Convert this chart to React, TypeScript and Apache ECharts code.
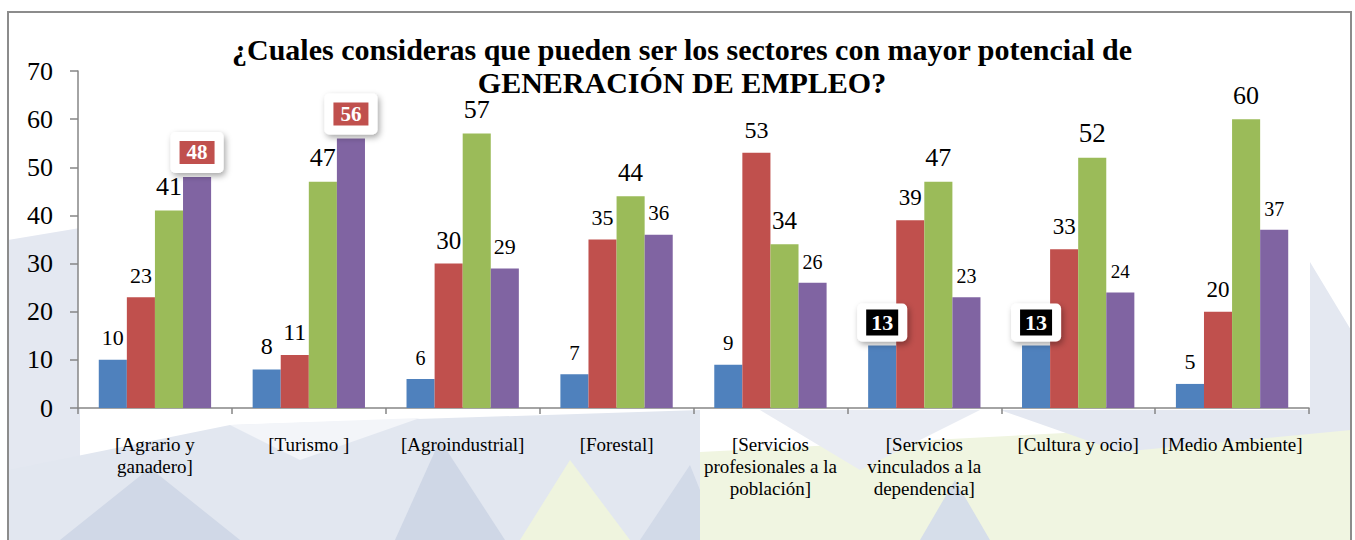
import React, { useEffect, useRef } from "react";
import * as echarts from "echarts";

const titleLines = [
  "¿Cuales consideras que pueden ser los sectores con mayor potencial de",
  "GENERACIÓN DE EMPLEO?",
];

const categories = [
  "[Agrario y\nganadero]",
  "[Turismo ]",
  "[Agroindustrial]",
  "[Forestal]",
  "[Servicios\nprofesionales a la\npoblación]",
  "[Servicios\nvinculados a la\ndependencia]",
  "[Cultura y ocio]",
  "[Medio Ambiente]",
];

const seriesNames = ["Serie 1", "Serie 2", "Serie 3", "Serie 4"];
const blueValues = [10, 8, 6, 7, 9, 13, 13, 5];
const redValues = [23, 11, 30, 35, 53, 39, 33, 20];
const greenValues = [41, 47, 57, 44, 34, 47, 52, 60];
const purpleValues = [48, 56, 29, 36, 26, 23, 24, 37];

const yTicks = { min: 0, max: 70, interval: 10 };

// styling (kept apart from the data)
const seriesColors = ["#4f81bd", "#c0504d", "#9bbb59", "#8064a2"];
const labelSizes = [
  [22, 24, 20, 21, 21, 22, 22, 22],
  [22, 24, 25, 22, 24, 23, 23, 23],
  [26, 26, 26, 25, 25, 26, 27, 26],
  [22, 22, 22, 21, 20, 20, 19, 20],
];
const highlights = [
  { s: 3, i: 0, bg: "#c0504d" },
  { s: 3, i: 1, bg: "#c0504d" },
  { s: 0, i: 5, bg: "#000000" },
  { s: 0, i: 6, bg: "#000000" },
];

const FONT = "'Liberation Serif', 'Times New Roman', serif";

export default function App() {
  const ref = useRef<HTMLDivElement>(null);
  useEffect(() => {
    if (!ref.current) return;
    const chart = echarts.init(ref.current, undefined, { renderer: "svg" });
    const allValues = [blueValues, redValues, greenValues, purpleValues];

    const series = allValues.map((vals, s) => ({
      name: seriesNames[s],
      type: "bar",
      barGap: "0%",
      barCategoryGap: "27%",
      itemStyle: { color: seriesColors[s] },
      data: vals.map((v, i) => {
        const h = highlights.find((x) => x.s === s && x.i === i);
        if (h) {
          const black = h.bg === "#000000";
          return {
            value: v,
            label: {
              show: true,
              position: "top",
              distance: 4,
              formatter: "{h|{c}}",
              backgroundColor: "#ffffff",
              borderRadius: 5,
              padding: black ? [7, 9] : [10, 9],
              shadowColor: "rgba(0,0,0,0.35)",
              shadowBlur: 6,
              shadowOffsetX: 2,
              shadowOffsetY: 3,
              rich: {
                h: {
                  backgroundColor: h.bg,
                  color: "#ffffff",
                  fontWeight: "bold",
                  fontFamily: FONT,
                  fontSize: black ? 22 : 21,
                  lineHeight: black ? 24 : 21,
                  padding: black ? [2, 5] : [1, 7],
                },
              },
            },
          };
        }
        return {
          value: v,
          label: {
            show: true,
            position: "top",
            distance: 11,
            color: "#000",
            fontFamily: FONT,
            fontSize: labelSizes[s][i],
            lineHeight: labelSizes[s][i],
          },
        };
      }),
    }));

    const bgPolys = [
      { pts: [[8, 240], [80, 228], [80, 540], [8, 540]], fill: "#e4e8f1" },
      { pts: [[8, 470], [230, 425], [700, 410], [700, 540], [8, 540]], fill: "#e2e7f0" },
      { pts: [[60, 540], [150, 468], [240, 540]], fill: "#d0d8e7" },
      { pts: [[395, 540], [440, 440], [505, 540]], fill: "#cfd7e6" },
      { pts: [[230, 425], [420, 418], [300, 460]], fill: "#f3f5f9" },
      { pts: [[520, 540], [570, 460], [630, 540]], fill: "#eff4de" },
      { pts: [[640, 540], [690, 465], [720, 540]], fill: "#d2dae8" },
      { pts: [[700, 452], [1351, 418], [1351, 540], [700, 540]], fill: "#f0f5e1" },
      { pts: [[1000, 410], [1310, 410], [1310, 262], [1351, 330], [1351, 430], [1120, 452]], fill: "#e4e8f1" },
      { pts: [[920, 540], [955, 480], [990, 540]], fill: "#d6deea" },
      { pts: [[760, 410], [980, 410], [860, 470]], fill: "#e9ecf3" },
    ];

    chart.setOption({
      animation: false,
      backgroundColor: "#ffffff",
      graphic: [
        ...bgPolys.map((p) => ({
          type: "polygon",
          z: -10,
          silent: true,
          shape: { points: p.pts },
          style: { fill: p.fill },
        })),
        {
          type: "text",
          z: 50,
          silent: true,
          x: 682,
          y: 33,
          style: {
            text: titleLines.join("\n"),
            fontFamily: FONT,
            fontWeight: "bold",
            fontSize: 30,
            lineHeight: 33,
            fill: "#000",
            align: "center",
            verticalAlign: "top",
          },
        },
        {
          type: "rect",
          z: 100,
          silent: true,
          shape: { x: 8, y: 12, width: 1343, height: 560 },
          style: { fill: "none", stroke: "#8c8c8c", lineWidth: 2 },
        },
      ],
      grid: {
        left: 78,
        right: 46,
        top: 71,
        bottom: 132,
        show: true,
        backgroundColor: "#ffffff",
        borderWidth: 0,
        z: 0,
      },
      xAxis: {
        type: "category",
        data: categories,
        axisLine: { lineStyle: { color: "#868686", width: 1.5 } },
        axisTick: { show: true, length: 6, lineStyle: { color: "#868686", width: 1.5 } },
        axisLabel: {
          interval: 0,
          color: "#000",
          fontFamily: FONT,
          fontSize: 19,
          lineHeight: 22,
          margin: 25,
          align: "center",
        },
      },
      yAxis: {
        type: "value",
        min: yTicks.min,
        max: yTicks.max,
        interval: yTicks.interval,
        splitLine: { show: false },
        axisLine: { show: true, lineStyle: { color: "#868686", width: 1.5 } },
        axisTick: { show: true, length: 8, lineStyle: { color: "#868686", width: 1.5 } },
        axisLabel: {
          color: "#000",
          fontFamily: FONT,
          fontSize: 26,
          margin: 25,
        },
      },
      series,
    });
    return () => chart.dispose();
  }, []);
  return (
    <div
      ref={ref}
      style={{ position: "absolute", left: 0, top: 0, width: 1355, height: 540 }}
    />
  );
}
